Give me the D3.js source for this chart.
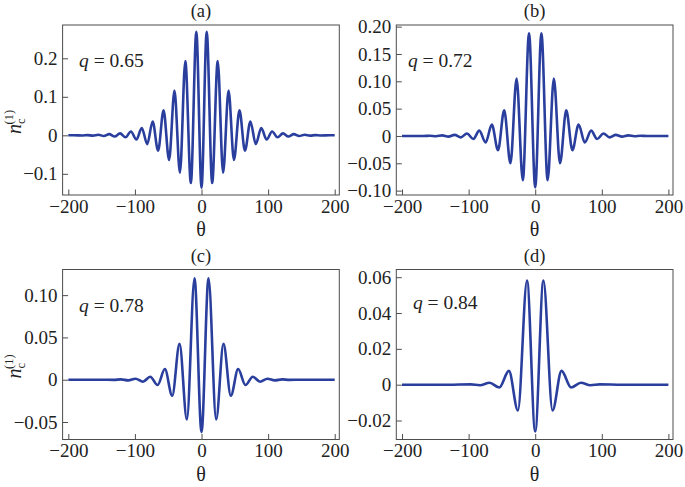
<!DOCTYPE html>
<meta charset="utf-8">
<script src="https://d3js.org/d3.v7.min.js"></script>
<style>
  body { margin: 0; background: #fff; }
  svg text { font-family: "Liberation Serif", "Times New Roman", serif; fill: #222; }
  .frame { fill: none; stroke: #4d4d4d; stroke-width: 1; }
  .tick line { stroke: #4d4d4d; }
  .tick text { font-size: 19px; }
  .curve { fill: none; stroke: #2a3f9d; stroke-width: 2.6; }
</style>
<body>
<div id="chart"></div>
<script>
// ---- data (extrema of n_c^(1) vs theta) ----
var thetaA = [-200, -192, -179.3, -171.2, -163, -154.9, -146.7, -138.6, -130.4, -122.3, -114.1, -106, -97.8, -89.7, -81.5, -73.4, -65.2, -57, -48.7, -40.6, -32.4, -24.3, -16, -7.8,
              0, 7.8, 16, 24.3, 32.4, 40.6, 48.7, 57, 65.2, 73.4, 81.5, 89.7, 97.8, 106, 114.1, 122.3, 130.4, 138.6, 146.7, 154.9, 163, 171.2, 179.3, 192, 200];
var nA = [0, 0, -0.0004, 0.0006, -0.0008, 0.0015, -0.0018, 0.003, -0.003, 0.005, -0.005, 0.010, -0.011, 0.019, -0.023, 0.036, -0.040, 0.065, -0.064, 0.116, -0.097, 0.193, -0.124, 0.269,
          -0.136, 0.269, -0.124, 0.193, -0.097, 0.116, -0.064, 0.065, -0.040, 0.036, -0.023, 0.019, -0.011, 0.010, -0.005, 0.005, -0.003, 0.003, -0.0018, 0.0015, -0.0008, 0.0006, -0.0004, 0, 0];

var thetaB = [-200, -185, -167.5, -158.2, -149, -139.6, -130.3, -121, -111.7, -102.5, -93, -84, -74.4, -65.2, -55.8, -46.6, -37.2, -28, -18.6, -9.3,
              0, 9.3, 18.6, 28, 37.2, 46.6, 55.8, 65.2, 74.4, 84, 93, 102.5, 111.7, 121, 130.3, 139.6, 149, 158.2, 167.5, 185, 200];
var nB = [0, 0, -0.0002, 0.0004, -0.0005, 0.001, -0.0012, 0.002, -0.0025, 0.0045, -0.0055, 0.0097, -0.012, 0.021, -0.026, 0.047, -0.050, 0.105, -0.081, 0.188,
          -0.094, 0.188, -0.081, 0.105, -0.050, 0.047, -0.026, 0.021, -0.012, 0.0097, -0.0055, 0.0045, -0.0025, 0.002, -0.0012, 0.001, -0.0005, 0.0004, -0.0002, 0, 0];

var thetaC = [-200, -150, -132, -121, -110, -99, -88, -77, -66, -55, -44, -33, -22, -10.5,
              0, 10.5, 22, 33, 44, 55, 66, 77, 88, 99, 110, 121, 132, 150, 200];
var nC = [0, 0, -0.0002, 0.0004, -0.0008, 0.0012, -0.0024, 0.0035, -0.0063, 0.0126, -0.019, 0.0425, -0.047, 0.120,
          -0.062, 0.120, -0.047, 0.0425, -0.019, 0.0126, -0.0063, 0.0035, -0.0024, 0.0012, -0.0008, 0.0004, -0.0002, 0, 0];

var thetaD = [-200, -130, -97, -83, -68.5, -54, -39.5, -26, -12.3,
              0, 12.3, 26, 39.5, 54, 68.5, 83, 97, 130, 200];
var nD = [0, 0, 0.0002, -0.0003, 0.0011, -0.0016, 0.0077, -0.0144, 0.0581,
          -0.0261, 0.0581, -0.0144, 0.0077, -0.0016, 0.0011, -0.0003, 0.0002, 0, 0];

// tick values and labels
var xTicks = [-200, -100, 0, 100, 200];
var xTickLabels = ["\u2212200", "\u2212100", "0", "100", "200"];
var yTicksA = [-0.1, 0, 0.1, 0.2];
var yLabelsA = ["\u22120.1", "0", "0.1", "0.2"];
var yTicksB = [-0.10, -0.05, 0, 0.05, 0.10, 0.15, 0.20];
var yLabelsB = ["\u22120.10", "\u22120.05", "0", "0.05", "0.10", "0.15", "0.20"];
var yTicksC = [-0.05, 0, 0.05, 0.10];
var yLabelsC = ["\u22120.05", "0", "0.05", "0.10"];
var yTicksD = [-0.02, 0, 0.02, 0.04, 0.06];
var yLabelsD = ["\u22120.02", "0", "0.02", "0.04", "0.06"];

var titles = ["(a)", "(b)", "(c)", "(d)"];
var qValues = ["0.65", "0.72", "0.78", "0.84"];

// ---- layout ----
var width = 685, height = 487;
var W = 276.7, H = 170;
var panels = [
  {left: 62.6,  top: 25,    theta: thetaA, n: nA, yDomain: [-0.155, 0.2865], yTicks: yTicksA, yLabels: yLabelsA, qx: 16.5, qy: 42, ylab: true},
  {left: 396.3, top: 25,    theta: thetaB, n: nB, yDomain: [-0.108, 0.203],  yTicks: yTicksB, yLabels: yLabelsB, qx: 11.7, qy: 42, ylab: false},
  {left: 62.6,  top: 269.5, theta: thetaC, n: nC, yDomain: [-0.0707, 0.1303], yTicks: yTicksC, yLabels: yLabelsC, qx: 16.5, qy: 42.5, ylab: true},
  {left: 396.3, top: 269.5, theta: thetaD, n: nD, yDomain: [-0.0306, 0.0643], yTicks: yTicksD, yLabels: yLabelsD, qx: 16.7, qy: 39, ylab: false}
];

var svg = d3.select("#chart").append("svg")
    .attr("width", width)
    .attr("height", height);

var x = d3.scaleLinear().domain([-208.6, 206.9]).range([0, W]);

panels.forEach(function(p, i) {
  var y = d3.scaleLinear().domain(p.yDomain).range([H, 0]);
  var g = svg.append("g").attr("transform", "translate(" + p.left + "," + p.top + ")");

  var pts = p.theta.map(function(t, k) { return [t, p.n[k]]; });

  var line = d3.line()
      .x(function(d) { return x(d[0]); })
      .y(function(d) { return y(d[1]); })
      .curve(d3.curveMonotoneX);

  g.append("path").attr("class", "curve").attr("d", line(pts));

  // axes with inward ticks
  var gx = g.append("g")
      .attr("transform", "translate(0," + H + ")")
      .call(d3.axisBottom(x).tickValues(xTicks)
            .tickFormat(function(d, k) { return xTickLabels[k]; })
            .tickSize(-5.5).tickPadding(4.5));
  gx.select(".domain").remove();

  var gy = g.append("g")
      .call(d3.axisLeft(y).tickValues(p.yTicks)
            .tickFormat(function(d, k) { return p.yLabels[k]; })
            .tickSize(-5.5).tickPadding(5));
  gy.select(".domain").remove();
  // drop d3's default sans-serif 10px so the serif css applies
  gx.attr("font-family", null).attr("font-size", null);
  gy.attr("font-family", null).attr("font-size", null);

  g.append("rect").attr("class", "frame").attr("width", W).attr("height", H);

  // panel title
  g.append("text")
      .attr("x", W / 2).attr("y", -8)
      .attr("text-anchor", "middle")
      .attr("font-size", 18.5)
      .text(titles[i]);

  // q label
  var qt = g.append("text")
      .attr("x", p.qx).attr("y", p.qy)
      .attr("font-size", 19.5);
  qt.append("tspan").attr("font-style", "italic").text("q");
  qt.append("tspan").text(" = " + qValues[i]);

  // x label
  g.append("text")
      .attr("x", W / 2).attr("y", H + 41)
      .attr("text-anchor", "middle")
      .attr("font-size", 20)
      .text("\u03b8");

  // y label n_c^(1)
  if (p.ylab) {
    var yl = g.append("text")
        .attr("transform", "translate(" + (-42) + "," + (H / 2 + 12) + ") rotate(-90)")
        .attr("text-anchor", "middle")
        .attr("font-size", 20);
    yl.append("tspan").attr("font-style", "italic").text("n");
    yl.append("tspan").attr("font-size", 12.5).attr("dy", 4).text("c");
    yl.append("tspan").attr("font-size", 12.5).attr("dx", -6).attr("dy", -12).text("(1)");
  }
});
</script>
</body>
